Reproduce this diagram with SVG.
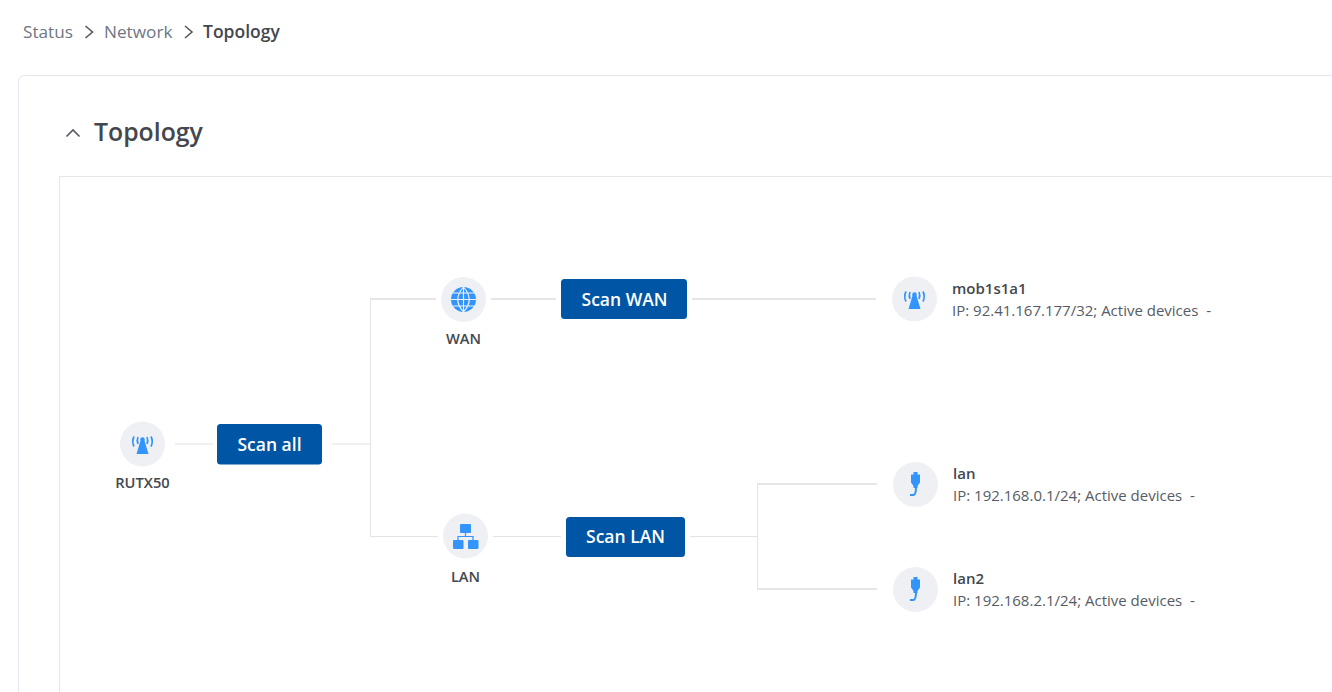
<svg xmlns="http://www.w3.org/2000/svg" width="1332" height="692" viewBox="0 0 1332 692">
<style>
text{font-family:"Open Sans","Noto Sans","Liberation Sans",sans-serif}
.crumb{font-size:17.200px;fill:#6e7683}
.lbl{font-size:14.700px;font-weight:600;fill:#43474e;text-anchor:middle}
.name{font-size:15px;font-weight:600;fill:#43474e}
.ip{font-size:15px;fill:#565c65}
.btn{font-size:17.500px;font-weight:600;fill:#fff;text-anchor:middle}
.bg{fill:#eef0f4}
.b{fill:#0055a5}
.i{fill:#3395fb;stroke:none}
.is{fill:none;stroke:#3395fb}
.c{fill:none;stroke:#e4e4e6;stroke-width:1}
.c2{fill:none;stroke:#e6e6e8;stroke-width:2}
.c3{fill:none;stroke:#f0f0f1;stroke-width:2}
.f{fill:none;stroke:#e4e7ee;stroke-width:1}
.ch{fill:none;stroke:#55585e;stroke-width:1.6}
</style>
<defs>
<g id="tower">
<path class="i" d="M-1.800-4H1.800L6 10H-6Z"/>
<circle class="i" cx="0" cy="-4.500" r="2.200"/>
<path class="is" stroke-width="1.700" d="M-4.500-7Q-6-3.500-4.500 0M4.500-7Q6-3.500 4.500 0M-8.500-7.500Q-11-2.500-8.500 2.500M8.500-7.500Q11-2.500 8.500 2.500"/>
</g>
<g id="plug">
<path class="i" d="M-2-12.500h4v2.500h2.500v8l-2.500 3.500v2h-4v-2l-2.500-3.500v-8h2.500Z"/>
<path class="is" stroke-width="2" d="M.5 2.500Q.5 10-2 10.500H-5.500"/>
</g>
</defs>
<rect width="1332" height="692" fill="#fff"/>
<g id="breadcrumb">
<text class="crumb" x="23" y="37.500">Status</text>
<path class="ch" d="M85.500 26l7 6-7 6"/>
<text class="crumb" x="104" y="37.500">Network</text>
<path class="ch" d="M185 26l7 6-7 6"/>
<text x="203" y="37.500" font-size="17.500" font-weight="600" fill="#43474e">Topology</text>
</g>
<g id="panel">
<path class="f" d="M1332 75.500H24.500a6 6 0 0 0-6 6V692"/>
<path class="ch" d="M66.500 136.500l6.500-6.500 6.500 6.500" stroke-width="1.300"/>
<text x="94" y="141" font-size="24.800" font-weight="600" fill="#43474e">Topology</text>
<path class="f" d="M1332 176.500H59.500V692"/>
</g>
<g id="connectors">
<path class="c" d="M370.500 299V536.500M370.500 536.500H438M493 536.500H561M690 536.500H757.500M757.500 484V589"/>
<path class="c2" d="M370 299H436M491 299H556M692 299H876M757 484H877M757 589H877"/>
<path class="c3" d="M175 444H213M332 444H370"/>
</g>
<g id="node-rutx50">
<circle class="bg" cx="142.500" cy="444" r="22.500"/>
<use href="#tower" x="142.500" y="444"/>
<text class="lbl" x="142.500" y="488">RUTX50</text>
</g>
<g id="node-scan-all">
<rect class="b" x="217" y="424" width="105" height="40.500" rx="3.500"/>
<text class="btn" x="269.500" y="450.500">Scan all</text>
</g>
<g id="node-wan">
<circle class="bg" cx="463.500" cy="299.500" r="22.500"/>
<circle class="i" cx="463.500" cy="299.500" r="12.500"/>
<path fill="none" stroke="#eef0f4" stroke-width="1.100" d="M463.500 287V312M451 299.500H476M453 293H474M453 306H474M463.500 287Q452 299.500 463.500 312M463.500 287Q475 299.500 463.500 312"/>
<text class="lbl" x="463.500" y="343.500">WAN</text>
</g>
<g id="node-scan-wan">
<rect class="b" x="561" y="279" width="126" height="40" rx="3.500"/>
<text class="btn" x="624.500" y="305.500">Scan WAN</text>
</g>
<g id="node-lan">
<circle class="bg" cx="465.500" cy="536" r="22.500"/>
<rect class="i" x="460" y="524" width="11" height="9" rx="1"/>
<rect class="i" x="453" y="540" width="10.500" height="9" rx="1"/>
<rect class="i" x="468" y="540" width="10.500" height="9" rx="1"/>
<path class="is" stroke-width="1.200" d="M465.500 533V536.500M458 540V536.500H473V540"/>
<text class="lbl" x="465.500" y="581.500">LAN</text>
</g>
<g id="node-scan-lan">
<rect class="b" x="566" y="517" width="119" height="40" rx="3.500"/>
<text class="btn" x="625.500" y="542.500">Scan LAN</text>
</g>
<g id="node-mob1s1a1">
<circle class="bg" cx="914.500" cy="299" r="22.500"/>
<use href="#tower" x="914.500" y="299"/>
<text class="name" x="952" y="294">mob1s1a1</text>
<text class="ip" x="952" y="316">IP: 92.41.167.177/32; Active devices &#160;-</text>
</g>
<g id="node-lan1">
<circle class="bg" cx="915.500" cy="484.500" r="22.500"/>
<use href="#plug" x="915.500" y="484.500"/>
<text class="name" x="953" y="479">lan</text>
<text class="ip" x="953" y="501">IP: 192.168.0.1/24; Active devices &#160;-</text>
</g>
<g id="node-lan2">
<circle class="bg" cx="915.500" cy="589.500" r="22.500"/>
<use href="#plug" x="915.500" y="589.500"/>
<text class="name" x="953" y="584">lan2</text>
<text class="ip" x="953" y="606">IP: 192.168.2.1/24; Active devices &#160;-</text>
</g>
</svg>
